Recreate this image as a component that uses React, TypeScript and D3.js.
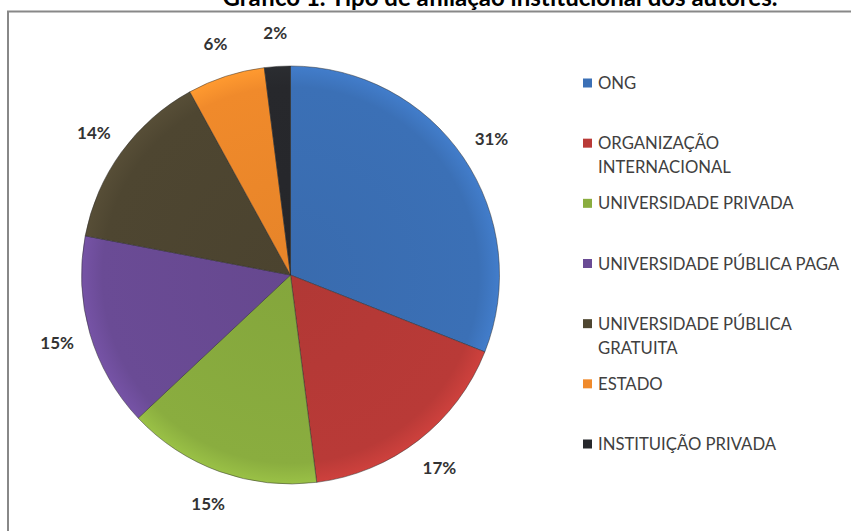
import React from 'react';
import * as d3 from 'd3';

const categories = [
  'ONG',
  'ORGANIZAÇÃO INTERNACIONAL',
  'UNIVERSIDADE PRIVADA',
  'UNIVERSIDADE PÚBLICA PAGA',
  'UNIVERSIDADE PÚBLICA GRATUITA',
  'ESTADO',
  'INSTITUIÇÃO PRIVADA',
];
const legendLines = [
  ['ONG'],
  ['ORGANIZAÇÃO', 'INTERNACIONAL'],
  ['UNIVERSIDADE PRIVADA'],
  ['UNIVERSIDADE PÚBLICA PAGA'],
  ['UNIVERSIDADE PÚBLICA', 'GRATUITA'],
  ['ESTADO'],
  ['INSTITUIÇÃO PRIVADA'],
];
const values = [31, 17, 15, 15, 14, 6, 2];
const colors = ['#3b70b6', '#b93a37', '#8aad3f', '#6a4b95', '#4e4631', '#f08a2b', '#27282c'];

const title = 'Gráfico 1. Tipo de afiliação institucional dos autores.';

const W = 851;
const H = 531;
const cx = 290.5;
const cy = 275;
const R = 209;
const font = 'Lato, "Open Sans", sans-serif';

export default function App() {
  const pie = d3.pie<number>().sort(null).value(d => d)(values);
  const arc = d3.arc<d3.PieArcDatum<number>>().innerRadius(0).outerRadius(R);
  const labelArc = d3.arc<d3.PieArcDatum<number>>().innerRadius(243).outerRadius(243);
  const total = d3.sum(values);

  const legendY = d3.scalePoint<string>().domain(categories).range([83, 444]);
  const color = d3.scaleOrdinal<string, string>().domain(categories).range(colors);

  return (
    <svg width={W} height={H} style={{ position: 'absolute', left: 0, top: 0, background: '#fff' }}>
      <defs>
        {colors.map((c, i) => (
          <radialGradient key={i} id={`g${i}`} cx={0} cy={0} r={R} gradientUnits="userSpaceOnUse">
            <stop offset="0%" stopColor={d3.color(c)!.darker(0.12).toString()} />
            <stop offset="90%" stopColor={c} />
            <stop offset="100%" stopColor={d3.color(c)!.brighter(0.3).toString()} />
          </radialGradient>
        ))}
      </defs>
      <text x={500} y={6} textAnchor="middle" fontFamily={font} fontWeight="bold" fontSize={24} fill="#000">
        {title}
      </text>
      <path d={`M8,${H} V11.5 H${W}`} fill="none" stroke="#888" strokeWidth={2} />
      <g transform={`translate(${cx},${cy})`}>
        {pie.map((d, i) => (
          <path key={i} d={arc(d) ?? ''} fill={`url(#g${i})`} stroke="#2a2a2a" strokeOpacity={0.6} strokeWidth={0.8} />
        ))}
        {pie.map((d, i) => {
          const [x, y] = labelArc.centroid(d);
          return (
            <text key={i} x={x} y={y} textAnchor="middle" dominantBaseline="central"
              fontFamily={font} fontWeight="bold" fontSize={17} fill="#333">
              {`${Math.round((d.data / total) * 100)}%`}
            </text>
          );
        })}
      </g>
      <g>
        {categories.map((c, i) => {
          const y = legendY(c)!;
          return (
            <g key={c}>
              <rect x={583} y={y - 4.5} width={9} height={9} fill={color(c)} />
              {legendLines[i].map((line, j) => (
                <text key={j} x={598} y={y + j * 24} dominantBaseline="central"
                  fontFamily={font} fontSize={16.7} fill="#404040">
                  {line}
                </text>
              ))}
            </g>
          );
        })}
      </g>
    </svg>
  );
}
